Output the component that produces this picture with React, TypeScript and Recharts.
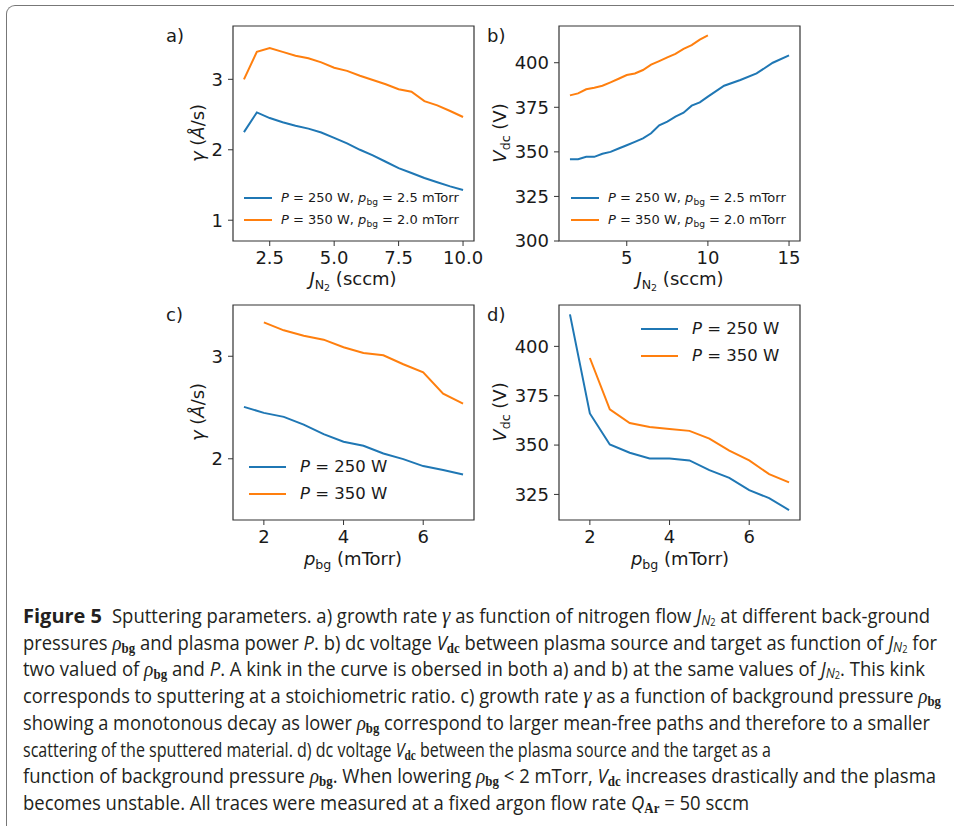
import React, { useLayoutEffect, useRef, useState } from "react";
import { LineChart, Line, XAxis, YAxis, ReferenceArea } from "recharts";

const BLUE = "#1f77b4";
const ORANGE = "#ff7f0e";

// a) growth rate vs nitrogen flow
const flowA = [1.5, 2, 2.5, 3, 3.5, 4, 4.5, 5, 5.5, 6, 6.5, 7, 7.5, 8, 8.5, 9, 9.5, 10];
const rateA250 = [2.25, 2.53, 2.45, 2.39, 2.34, 2.3, 2.245, 2.17, 2.09, 2.0, 1.92, 1.83, 1.74, 1.67, 1.6, 1.54, 1.48, 1.43];
const rateA350 = [3.0, 3.39, 3.445, 3.39, 3.335, 3.3, 3.24, 3.165, 3.12, 3.05, 2.99, 2.93, 2.86, 2.825, 2.69, 2.63, 2.55, 2.465];

// b) dc voltage vs nitrogen flow
const flowB250 = [1.5, 2, 2.5, 3, 3.5, 4, 4.5, 5, 5.5, 6, 6.5, 7, 7.5, 8, 8.5, 9, 9.5, 10, 11, 12, 13, 14, 15];
const voltB250 = [345.9, 345.9, 347.2, 347.2, 348.9, 350, 351.9, 353.7, 355.6, 357.6, 360.4, 364.9, 367, 369.8, 372, 375.9, 377.8, 381, 387.1, 390.3, 394, 400, 404.1];
const flowB350 = [1.5, 2, 2.5, 3, 3.5, 4, 4.5, 5, 5.5, 6, 6.5, 7, 7.5, 8, 8.5, 9, 9.5, 10];
const voltB350 = [381.7, 382.8, 385.1, 386, 387.1, 389, 391, 393.1, 394, 395.9, 398.9, 400.9, 403, 405, 407.8, 409.9, 413, 415.3];

// c) growth rate vs background pressure
const pressC250 = [1.5, 2, 2.5, 3, 3.5, 4, 4.5, 5, 5.5, 6, 6.5, 7];
const rateC250 = [2.506, 2.448, 2.409, 2.334, 2.24, 2.166, 2.127, 2.052, 1.997, 1.929, 1.89, 1.847];
const pressC350 = [2, 2.5, 3, 3.5, 4, 4.5, 5, 5.5, 6, 6.5, 7];
const rateC350 = [3.331, 3.253, 3.201, 3.162, 3.088, 3.032, 3.01, 2.922, 2.844, 2.636, 2.539];

// d) dc voltage vs background pressure
const pressD250 = [1.5, 2, 2.5, 3, 3.5, 4, 4.5, 5, 5.5, 6, 6.5, 7];
const voltD250 = [416.2, 366, 350.3, 346.1, 343.2, 343.2, 342.2, 337.3, 333.4, 327.2, 323.1, 317.1];
const pressD350 = [2, 2.5, 3, 3.5, 4, 4.5, 5, 5.5, 6, 6.5, 7];
const voltD350 = [394.1, 368.1, 361.2, 359.2, 358.2, 357.2, 353.3, 347.2, 342.2, 335.3, 331.1];

const zip = (xs: number[], ys: number[]) => xs.map((x, i) => ({ x, y: ys[i] }));

const MPL = "'DejaVu Sans', Verdana, sans-serif";
const INK = "#1a1a1a";
const PW = 241;
const PH = 215;

const sub: React.CSSProperties = { fontSize: "70%", position: "relative", top: "0.3em" };

function Panel(props: {
  left: number;
  top: number;
  xDomain: [number, number];
  yDomain: [number, number];
  xTicks: number[];
  yTicks: number[];
  xFmt?: (v: number) => string;
  series: { data: { x: number; y: number }[]; color: string; name: string }[];
}) {
  const ML = 80;
  const MT = 10;
  const MR = 10;
  const MB = 40;
  const tick = { fontSize: 18, fill: INK, fontFamily: MPL };
  return (
    <div style={{ position: "absolute", left: props.left - ML, top: props.top - MT }}>
      <LineChart width={ML + PW + MR} height={MT + PH + MB} margin={{ top: MT, right: MR, left: 0, bottom: 0 }}>
        <XAxis
          type="number"
          dataKey="x"
          domain={props.xDomain}
          ticks={props.xTicks}
          allowDataOverflow
          interval={0}
          height={MB}
          axisLine={false}
          tickSize={5}
          tickMargin={5}
          tickLine={{ stroke: "#333" }}
          tick={tick}
          tickFormatter={props.xFmt}
        />
        <YAxis
          type="number"
          domain={props.yDomain}
          ticks={props.yTicks}
          allowDataOverflow
          interval={0}
          width={ML}
          axisLine={false}
          tickSize={5}
          tickMargin={5}
          tickLine={{ stroke: "#333" }}
          tick={tick}
        />
        <ReferenceArea
          x1={props.xDomain[0]}
          x2={props.xDomain[1]}
          y1={props.yDomain[0]}
          y2={props.yDomain[1]}
          fill="none"
          fillOpacity={0}
          stroke="#333"
          strokeWidth={1.2}
          ifOverflow="visible"
        />
        {props.series.map((s) => (
          <Line
            key={s.name}
            data={s.data}
            dataKey="y"
            name={s.name}
            stroke={s.color}
            strokeWidth={2}
            dot={false}
            isAnimationActive={false}
          />
        ))}
      </LineChart>
    </div>
  );
}

function Legend2(props: {
  x: number;
  y: number;
  gap: number;
  handle: number;
  textX: number;
  size: number;
  rows: { color: string; label: React.ReactNode }[];
}) {
  return (
    <>
      {props.rows.map((r, i) => (
        <div key={i}>
          <div
            style={{
              position: "absolute",
              left: props.x,
              top: props.y + i * props.gap - 1,
              width: props.handle,
              height: 2,
              background: r.color,
            }}
          />
          <div
            style={{
              position: "absolute",
              left: props.textX,
              top: props.y + i * props.gap,
              transform: "translateY(-50%)",
              fontFamily: MPL,
              fontSize: props.size,
              color: INK,
              whiteSpace: "nowrap",
              lineHeight: 1.2,
            }}
          >
            {r.label}
          </div>
        </div>
      ))}
    </>
  );
}

function Txt(props: { x: number; y: number; rotate?: boolean; left?: boolean; size?: number; children: React.ReactNode }) {
  return (
    <div
      style={{
        position: "absolute",
        left: props.x,
        top: props.y,
        transform: props.left
          ? "translateY(-50%)"
          : `translate(-50%, -50%)${props.rotate ? " rotate(-90deg)" : ""}`,
        fontFamily: MPL,
        fontSize: props.size ?? 18,
        color: INK,
        whiteSpace: "nowrap",
        lineHeight: 1.2,
      }}
    >
      {props.children}
    </div>
  );
}

const legWide = (p: string, bg: string) => (
  <span>
    <i>P</i> = {p} W, <i>p</i>
    <span style={sub}>bg</span> = {bg} mTorr
  </span>
);
const legP = (p: string) => (
  <span>
    <i>P</i> = {p} W
  </span>
);

// caption pieces
const SERIF = "'Liberation Serif', 'DejaVu Serif', serif";
const csub: React.CSSProperties = {
  fontFamily: SERIF,
  fontWeight: "bold",
  fontSize: 14,
  position: "relative",
  top: 3,
  lineHeight: 0,
};
const rho = (
  <>
    <i style={{ fontFamily: SERIF, fontSize: 21, lineHeight: 0 }}>ρ</i>
    <span style={csub}>bg</span>
  </>
);
const vdc = (
  <>
    <i>V</i>
    <span style={csub}>dc</span>
  </>
);
const jn2 = (
  <>
    <i>J</i>
    <i style={{ fontSize: 14, position: "relative", top: 2, lineHeight: 0 }}>N</i>
    <span style={{ fontSize: 10, position: "relative", top: 3, lineHeight: 0 }}>2</span>
  </>
);
const gam = <i style={{ fontFamily: SERIF, fontSize: 23, lineHeight: 0 }}>γ</i>;
const qar = (
  <>
    <i>Q</i>
    <span style={csub}>Ar</span>
  </>
);

const captionLines: { x: number; end: number; node: React.ReactNode }[] = [
  {
    x: 112,
    end: 930,
    node: <>Sputtering parameters. a) growth rate {gam} as function of nitrogen flow {jn2} at different back-ground</>,
  },
  {
    x: 23,
    end: 937,
    node: (
      <>
        pressures {rho} and plasma power <i>P</i>. b) dc voltage {vdc} between plasma source and target as function of {jn2} for
      </>
    ),
  },
  {
    x: 23,
    end: 925,
    node: (
      <>
        two valued of {rho} and <i>P</i>. A kink in the curve is obersed in both a) and b) at the same values of {jn2}. This kink
      </>
    ),
  },
  {
    x: 23,
    end: 941,
    node: <>corresponds to sputtering at a stoichiometric ratio. c) growth rate {gam} as a function of background pressure {rho}</>,
  },
  {
    x: 23,
    end: 930,
    node: <>showing a monotonous decay as lower {rho} correspond to larger mean-free paths and therefore to a smaller</>,
  },
  {
    x: 23,
    end: 771,
    node: <>scattering of the sputtered material. d) dc voltage {vdc} between the plasma source and the target as a</>,
  },
  {
    x: 23,
    end: 936,
    node: (
      <>
        function of background pressure {rho}. When lowering {rho} &lt; 2 mTorr, {vdc} increases drastically and the plasma
      </>
    ),
  },
  {
    x: 23,
    end: 749,
    node: <>becomes unstable. All traces were measured at a fixed argon flow rate {qar} = 50 sccm</>,
  },
];

const CAP_TOP = 603;
const CAP_STEP = 26.7;

// one caption line, squeezed horizontally to the width it has in the figure
function CaptionLine(props: { x: number; end: number; row: number; children: React.ReactNode }) {
  const ref = useRef<HTMLDivElement>(null);
  const [k, setK] = useState(1);
  useLayoutEffect(() => {
    const w = ref.current ? ref.current.getBoundingClientRect().width : 0;
    if (w > 0) setK((props.end - props.x) / w);
  }, []);
  return (
    <div
      ref={ref}
      style={{
        position: "absolute",
        left: props.x,
        top: CAP_TOP + props.row * CAP_STEP,
        height: CAP_STEP,
        lineHeight: `${CAP_STEP}px`,
        whiteSpace: "nowrap",
        transform: `scaleX(${k})`,
        transformOrigin: "0 50%",
      }}
    >
      {props.children}
    </div>
  );
}

export default function App() {
  return (
    <div
      style={{
        position: "absolute",
        left: 0,
        top: 0,
        width: 954,
        height: 826,
        background: "#fff",
        overflow: "hidden",
      }}
    >
      <div
        style={{
          position: "absolute",
          left: 6,
          top: 5,
          width: 980,
          height: 830,
          borderTop: "1.5px solid #777",
          borderLeft: "1.5px solid #777",
          borderTopLeftRadius: 9,
          boxSizing: "border-box",
        }}
      />

      <Panel
        left={233}
        top={26}
        xDomain={[1.075, 10.425]}
        yDomain={[0.705, 3.757]}
        xTicks={[2.5, 5, 7.5, 10]}
        yTicks={[1, 2, 3]}
        xFmt={(v) => v.toFixed(1)}
        series={[
          { name: "a250", color: BLUE, data: zip(flowA, rateA250) },
          { name: "a350", color: ORANGE, data: zip(flowA, rateA350) },
        ]}
      />
      <Panel
        left={559}
        top={26}
        xDomain={[0.825, 15.675]}
        yDomain={[300, 420.6]}
        xTicks={[5, 10, 15]}
        yTicks={[300, 325, 350, 375, 400]}
        series={[
          { name: "b250", color: BLUE, data: zip(flowB250, voltB250) },
          { name: "b350", color: ORANGE, data: zip(flowB350, voltB350) },
        ]}
      />
      <Panel
        left={233}
        top={305}
        xDomain={[1.225, 7.275]}
        yDomain={[1.403, 3.5]}
        xTicks={[2, 4, 6]}
        yTicks={[2, 3]}
        series={[
          { name: "c250", color: BLUE, data: zip(pressC250, rateC250) },
          { name: "c350", color: ORANGE, data: zip(pressC350, rateC350) },
        ]}
      />
      <Panel
        left={559}
        top={305}
        xDomain={[1.225, 7.275]}
        yDomain={[312.05, 420.95]}
        xTicks={[2, 4, 6]}
        yTicks={[325, 350, 375, 400]}
        series={[
          { name: "d250", color: BLUE, data: zip(pressD250, voltD250) },
          { name: "d350", color: ORANGE, data: zip(pressD350, voltD350) },
        ]}
      />

      {/* panel letters */}
      <Txt x={166} y={36} left>a)</Txt>
      <Txt x={487} y={36} left>b)</Txt>
      <Txt x={166} y={315} left>c)</Txt>
      <Txt x={487} y={315} left>d)</Txt>

      {/* axis labels */}
      <Txt x={198} y={133} rotate>
        <i>γ</i> (<i>Å</i>/s)
      </Txt>
      <Txt x={500} y={133} rotate>
        <i>V</i>
        <span style={sub}>dc</span> (V)
      </Txt>
      <Txt x={198} y={412} rotate>
        <i>γ</i> (<i>Å</i>/s)
      </Txt>
      <Txt x={500} y={412} rotate>
        <i>V</i>
        <span style={sub}>dc</span> (V)
      </Txt>
      <Txt x={353} y={279}>
        <i>J</i>
        <span style={sub}>
          N<span style={{ fontSize: "75%", position: "relative", top: "0.25em" }}>2</span>
        </span>{" "}
        (sccm)
      </Txt>
      <Txt x={680} y={279}>
        <i>J</i>
        <span style={sub}>
          N<span style={{ fontSize: "75%", position: "relative", top: "0.25em" }}>2</span>
        </span>{" "}
        (sccm)
      </Txt>
      <Txt x={353} y={559}>
        <i>p</i>
        <span style={sub}>bg</span> (mTorr)
      </Txt>
      <Txt x={680} y={559}>
        <i>p</i>
        <span style={sub}>bg</span> (mTorr)
      </Txt>

      {/* legends */}
      <Legend2
        x={244}
        y={198}
        gap={22}
        handle={28}
        textX={281}
        size={13}
        rows={[
          { color: BLUE, label: legWide("250", "2.5") },
          { color: ORANGE, label: legWide("350", "2.0") },
        ]}
      />
      <Legend2
        x={571}
        y={198}
        gap={22}
        handle={28}
        textX={608}
        size={13}
        rows={[
          { color: BLUE, label: legWide("250", "2.5") },
          { color: ORANGE, label: legWide("350", "2.0") },
        ]}
      />
      <Legend2
        x={249}
        y={467}
        gap={26.7}
        handle={37}
        textX={300}
        size={16.5}
        rows={[
          { color: BLUE, label: legP("250") },
          { color: ORANGE, label: legP("350") },
        ]}
      />
      <Legend2
        x={641}
        y={329}
        gap={26.7}
        handle={37}
        textX={692}
        size={16.5}
        rows={[
          { color: BLUE, label: legP("250") },
          { color: ORANGE, label: legP("350") },
        ]}
      />

      {/* caption */}
      <div style={{ fontFamily: "'Open Sans', sans-serif", fontSize: 20, color: "#231f20" }}>
        <div
          style={{
            position: "absolute",
            left: 23,
            top: CAP_TOP,
            height: CAP_STEP,
            lineHeight: `${CAP_STEP}px`,
            fontWeight: "bold",
            whiteSpace: "nowrap",
          }}
        >
          Figure 5
        </div>
        {captionLines.map((l, i) => (
          <CaptionLine key={i} x={l.x} end={l.end} row={i}>
            {l.node}
          </CaptionLine>
        ))}
      </div>
    </div>
  );
}
